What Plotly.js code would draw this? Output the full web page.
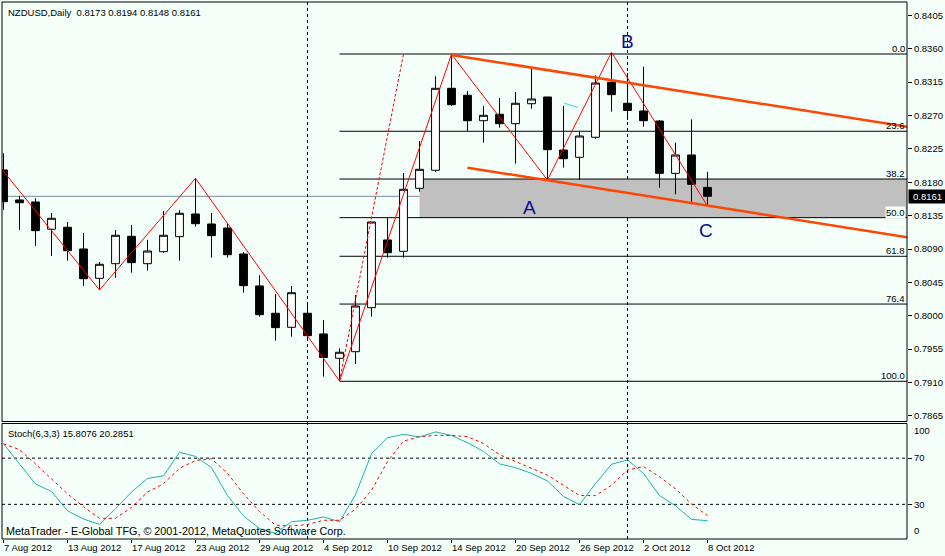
<!DOCTYPE html>
<html><head><meta charset="utf-8">
<script src="https://cdn.plot.ly/plotly-3.0.1.min.js"></script>
<style>html,body{margin:0;padding:0;background:#F5FFFA;} #chart{width:945px;height:556px;}</style>
</head><body><div id="chart"></div>
<script>
// ---------- DATA ----------
const days = ['7 Aug 2012','8 Aug 2012','9 Aug 2012','10 Aug 2012','13 Aug 2012','14 Aug 2012','15 Aug 2012','16 Aug 2012','17 Aug 2012','20 Aug 2012','21 Aug 2012','22 Aug 2012','23 Aug 2012','24 Aug 2012','27 Aug 2012','28 Aug 2012','29 Aug 2012','30 Aug 2012','31 Aug 2012','3 Sep 2012','4 Sep 2012','5 Sep 2012','6 Sep 2012','7 Sep 2012','10 Sep 2012','11 Sep 2012','12 Sep 2012','13 Sep 2012','14 Sep 2012','17 Sep 2012','18 Sep 2012','19 Sep 2012','20 Sep 2012','21 Sep 2012','24 Sep 2012','25 Sep 2012','26 Sep 2012','27 Sep 2012','28 Sep 2012','1 Oct 2012','2 Oct 2012','3 Oct 2012','4 Oct 2012','5 Oct 2012','8 Oct 2012'];
const openP  = [0.81965,0.81561,0.81534,0.81166,0.81193,0.80900,0.80505,0.80702,0.81071,0.80702,0.80864,0.81066,0.81372,0.81237,0.81183,0.80833,0.80402,0.80034,0.79845,0.80034,0.79755,0.79427,0.79516,0.80109,0.81022,0.80869,0.81718,0.81961,0.83066,0.82972,0.82629,0.82716,0.82589,0.82858,0.82949,0.82234,0.82136,0.82406,0.83147,0.82864,0.82760,0.82625,0.81920,0.82167,0.8173];
const highP  = [0.82190,0.81615,0.81584,0.81385,0.81264,0.81116,0.80725,0.81156,0.81224,0.81022,0.81412,0.81422,0.81853,0.81385,0.81237,0.80860,0.80546,0.80294,0.80402,0.80177,0.79943,0.79562,0.80280,0.81264,0.81327,0.81924,0.82356,0.83228,0.83524,0.83030,0.82827,0.82935,0.83016,0.83353,0.82949,0.82827,0.82481,0.83241,0.83551,0.83272,0.83357,0.82639,0.82333,0.82648,0.8194];
const lowP   = [0.81426,0.81156,0.80941,0.80806,0.80743,0.80402,0.80348,0.80513,0.80581,0.80608,0.80850,0.80743,0.81201,0.80783,0.80783,0.80311,0.79988,0.79664,0.79718,0.79664,0.79179,0.79121,0.79350,0.79988,0.80783,0.80783,0.81672,0.81938,0.82827,0.82491,0.82333,0.82535,0.82050,0.82791,0.81830,0.81996,0.81830,0.82387,0.82751,0.82639,0.82549,0.81726,0.81637,0.81503,0.8148];
const closeP = [0.81538,0.81524,0.81147,0.81314,0.80877,0.80500,0.80694,0.81085,0.80716,0.80873,0.81085,0.81381,0.81241,0.81080,0.80823,0.80406,0.80015,0.79840,0.80311,0.79732,0.79438,0.79508,0.80132,0.81264,0.80850,0.81705,0.81974,0.83066,0.82845,0.82629,0.82702,0.82589,0.82864,0.82922,0.82239,0.82117,0.82423,0.83137,0.82980,0.82767,0.82629,0.81920,0.82167,0.81772,0.8161];
const stochK = [82.4,64.7,47.6,41.2,24.4,17.3,12.6,26.2,40.6,52.4,54.7,75.0,71.5,61.8,37.6,20.0,9.1,5.0,15.0,16.2,19.1,15.0,38.3,73.8,87.7,90.6,88.3,92.7,89.7,83.3,75.9,65.0,61.8,56.8,50.3,36.8,29.7,48.0,64.7,68.5,56.8,37.6,28.8,17.0,15.8076];
const stochD = [82.4,77.4,65.0,52.4,39.1,27.9,17.9,17.9,27.3,40.6,47.9,61.2,68.0,69.4,56.8,39.1,23.8,12.0,11.2,12.6,16.2,16.2,25.9,42.1,67.0,84.7,88.6,89.7,89.7,88.6,82.7,73.0,67.1,61.2,55.3,46.5,37.6,37.6,46.5,59.7,62.7,53.8,43.5,30.3,20.2851];
const priceTicks = [0.7865,0.7910,0.7955,0.8000,0.8045,0.8090,0.8135,0.8180,0.8225,0.8270,0.8315,0.8360,0.8405];
const stochLevels = [30,70];
const labelEvery = 4;
// drawn objects (bar index, price)
const zigzagBars   = [-1, 6, 12, 21, 28, 34, 38, 44];
const zigzagPrices = [0.82212, 0.80348, 0.81853, 0.79121, 0.83524, 0.81830, 0.83551, 0.8148];
const fibLevels = [0, 23.6, 38.2, 50, 61.8, 76.4, 100];
const fibBars   = [21, 25];
const fibPrices = [0.79117, 0.83528];   // low, high
const zoneLevels = [38.2, 50];
const zoneStartBar = 26;
const chanUpperBars = [28, 56.5], chanUpperPrices = [0.83515, 0.82548];
const chanLowerBars = [29, 56.5], chanLowerPrices = [0.81996, 0.81058];
const cyanBars = [35.05, 35.89], cyanPrices = [0.82864, 0.82810];
const waveBars = [32.9, 38.97, 43.9], wavePrices = [0.81466, 0.83690, 0.81156], waveNames = ['A','B','C'];
const lastPrice = 0.8161;

// ---------- BUILD ----------
const FONT = '"Liberation Sans", Arial, sans-serif';
const idx = days.map((d,i)=>i);
const xRange = [-0.094, 56.47];
const tickIdx = idx.filter(i => i % labelEvery === 0);
const tickText = tickIdx.map(i => days[i]);
const monthStarts = idx.filter(i => i>0 && days[i].split(' ')[1] !== days[i-1].split(' ')[1]);
const fH = fibPrices[1], fL = fibPrices[0];
const fibPrice = lv => fH - lv/100*(fH - fL);

const traces = [
  {type:'scatter', mode:'lines', x:zigzagBars, y:zigzagPrices, xaxis:'x', yaxis:'y', line:{color:'#ff0000', width:1}},
  {type:'scatter', mode:'lines', x:fibBars, y:fibPrices, xaxis:'x', yaxis:'y', line:{color:'#ff0000', width:1, dash:'3px,2px'}},
  {type:'candlestick', x:idx, open:openP, high:highP, low:lowP, close:closeP, xaxis:'x', yaxis:'y',
   increasing:{line:{color:'#000', width:1}, fillcolor:'#ffffff'},
   decreasing:{line:{color:'#000', width:1}, fillcolor:'#000000'}, whiskerwidth:0},
  {type:'scatter', mode:'lines', x:chanUpperBars, y:chanUpperPrices, xaxis:'x', yaxis:'y', line:{color:'#ff4500', width:2.5}},
  {type:'scatter', mode:'lines', x:chanLowerBars, y:chanLowerPrices, xaxis:'x', yaxis:'y', line:{color:'#ff4500', width:2.5}},
  {type:'scatter', mode:'lines', x:cyanBars, y:cyanPrices, xaxis:'x', yaxis:'y', line:{color:'#40d0d0', width:1}},
  {type:'scatter', mode:'lines', x:idx, y:stochK, xaxis:'x', yaxis:'y2', line:{color:'#20b2aa', width:1}},
  {type:'scatter', mode:'lines', x:idx, y:stochD, xaxis:'x', yaxis:'y2', line:{color:'#ff0000', width:1, dash:'3px,3px'}}
];

const shapes = [];
shapes.push({type:'rect', layer:'below', xref:'x', yref:'y', x0:zoneStartBar, x1:xRange[1], y0:fibPrice(zoneLevels[1]), y1:fibPrice(zoneLevels[0]), fillcolor:'#c0c0c0', line:{width:0}});
fibLevels.forEach(lv => shapes.push({type:'line', layer:'below', xref:'x', yref:'y', x0:fibBars[0], x1:xRange[1], y0:fibPrice(lv), y1:fibPrice(lv), line:{color:'#000', width:1}}));
shapes.push({type:'line', layer:'below', xref:'paper', yref:'y', x0:0, x1:1, y0:lastPrice, y1:lastPrice, line:{color:'#778899', width:1}});
monthStarts.forEach(i => shapes.push({type:'line', layer:'below', xref:'x', yref:'paper', x0:i, x1:i, y0:0, y1:1, line:{color:'#000', width:1, dash:'3px,3px'}}));
stochLevels.forEach(v => shapes.push({type:'line', layer:'below', xref:'paper', yref:'y2', x0:0, x1:1, y0:v, y1:v, line:{color:'#000', width:1, dash:'3px,3px'}}));
shapes.push({type:'rect', layer:'above', xref:'paper', yref:'y domain', x0:0, x1:1, y0:0, y1:1, line:{color:'#000', width:1}, fillcolor:'rgba(0,0,0,0)'});
shapes.push({type:'rect', layer:'above', xref:'paper', yref:'y2 domain', x0:0, x1:1, y0:0, y1:1, line:{color:'#000', width:1}, fillcolor:'rgba(0,0,0,0)'});

const annotations = [];
annotations.push({xref:'paper', yref:'paper', x:0, y:1, xanchor:'left', yanchor:'top', xshift:4, yshift:-3, showarrow:false,
  text:'NZDUSD,Daily\u00a0\u00a0' + [openP[44],highP[44],lowP[44],closeP[44]].map(v=>v.toFixed(4)).join(' '), font:{family:FONT, size:9.5, color:'#000'}});
annotations.push({xref:'paper', yref:'y2 domain', x:0, y:1, xanchor:'left', yanchor:'top', xshift:4, yshift:-3, showarrow:false,
  text:'Stoch(6,3,3) ' + stochK[44].toFixed(4) + ' ' + stochD[44].toFixed(4), font:{family:FONT, size:9.5, color:'#000'}});
annotations.push({xref:'paper', yref:'y2 domain', x:0, y:0, xanchor:'left', yanchor:'bottom', xshift:2, yshift:0, showarrow:false,
  text:'MetaTrader - E-Global TFG, © 2001-2012, MetaQuotes Software Corp.', font:{family:FONT, size:10.8, color:'#000'}});
waveNames.forEach((n,k) => annotations.push({xref:'x', yref:'y', x:waveBars[k], y:wavePrices[k], showarrow:false, text:n,
  font:{family:FONT, size:19, color:'#0a0a96'}}));
fibLevels.forEach(lv => annotations.push({xref:'paper', yref:'y', x:1, y:fibPrice(lv), xanchor:'right', yanchor:'bottom', xshift:-1, yshift:-1, showarrow:false,
  text:lv.toFixed(1), font:{family:FONT, size:9.5, color:'#000'}, bgcolor: lv===50 ? '#F5FFFA' : 'rgba(0,0,0,0)', borderpad:0}));
annotations.push({xref:'paper', yref:'y2 domain', x:1, y:1, xanchor:'left', yanchor:'top', xshift:5, yshift:0, showarrow:false, text:'100', font:{family:FONT, size:9.5, color:'#000'}});
annotations.push({xref:'paper', yref:'y2 domain', x:1, y:0, xanchor:'left', yanchor:'bottom', xshift:5, yshift:1, showarrow:false, text:'0', font:{family:FONT, size:9.5, color:'#000'}});
annotations.push({xref:'paper', yref:'y', x:1, y:lastPrice, xanchor:'left', yanchor:'middle', xshift:1, showarrow:false, text:lastPrice.toFixed(4),
  font:{family:FONT, size:9.5, color:'#fff'}, bgcolor:'#000', borderpad:1, width:35, align:'center'});

const layout = {
  width:945, height:556,
  margin:{l:2, r:38, t:2, b:17, pad:0},
  paper_bgcolor:'#F5FFFA', plot_bgcolor:'#F5FFFA',
  showlegend:false, hovermode:false,
  font:{family:FONT, size:9.5, color:'#000'},
  xaxis:{domain:[0,1], anchor:'y2', range:xRange, tickmode:'array', tickvals:tickIdx, ticktext:tickText,
    ticks:'outside', ticklen:3, tickcolor:'#000', ticklabelposition:'outside right',
    showgrid:false, zeroline:false, showline:false, rangeslider:{visible:false}, fixedrange:true},
  yaxis:{domain:[0.2188,1], anchor:'x', side:'right', range:[0.78575,0.84229], tickmode:'array', tickvals:priceTicks,
    tickformat:'.4f', ticks:'outside', ticklen:4, tickcolor:'#000', showgrid:false, zeroline:false, showline:false, fixedrange:true},
  yaxis2:{domain:[0,0.2151], anchor:'x', side:'right', range:[0,100], tickmode:'array', tickvals:stochLevels,
    ticks:'outside', ticklen:4, tickcolor:'#000', showgrid:false, zeroline:false, showline:false, fixedrange:true},
  shapes:shapes, annotations:annotations
};
Plotly.newPlot('chart', traces, layout, {staticPlot:true, displayModeBar:false});
</script></body></html>
